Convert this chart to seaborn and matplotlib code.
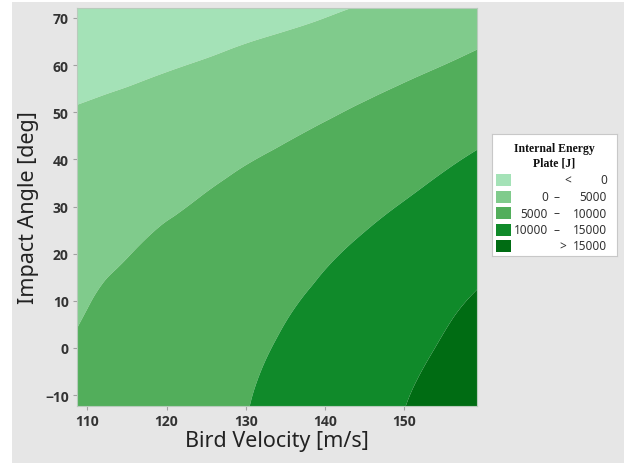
import numpy as np
import matplotlib
matplotlib.use("Agg")
import matplotlib.pyplot as plt
import matplotlib.tri as mtri
from matplotlib.patches import Rectangle
import seaborn as sns

sns.set_theme(style="white")
plt.rcParams['font.family'] = ['Noto Sans', 'DejaVu Sans']

# grid (response surface values, J)
velocity = [105, 110, 115, 120, 125, 130, 135, 140, 145, 150, 155, 160]
angle = [-20, -10, 0, 10, 20, 30, 40, 50, 60, 70, 80]
energy = [
    [4600, 5600, 6700, 7700, 8900, 10100, 11300, 12600, 13900, 15300, 16700, 18200],
    [4700, 5600, 6600, 7600, 8700, 9800, 11000, 12200, 13500, 14800, 16200, 17600],
    [4600, 5400, 6300, 7300, 8300, 9300, 10400, 11600, 12800, 14000, 15300, 16700],
    [4100, 4900, 5800, 6600, 7600, 8600, 9600, 10700, 11800, 13000, 14300, 15500],
    [3500, 4200, 4900, 5800, 6600, 7600, 8500, 9600, 10600, 11700, 12900, 14100],
    [2500, 3200, 3900, 4600, 5400, 6300, 7200, 8200, 9200, 10200, 11300, 12500],
    [1300, 1900, 2600, 3300, 4000, 4800, 5600, 6500, 7400, 8400, 9500, 10600],
    [-100, 400, 1000, 1600, 2300, 3000, 3800, 4600, 5500, 6400, 7400, 8400],
    [-1800, -1400, -900, -300, 300, 1000, 1700, 2400, 3200, 4100, 5000, 6000],
    [-3800, -3400, -2900, -2500, -1900, -1300, -700, 0, 800, 1500, 2400, 3300],
    [-6000, -5700, -5300, -4900, -4400, -3900, -3300, -2700, -2000, -1300, -500, 300],
]
levels = [0, 5000, 10000, 15000]
colors = ['#a4e2b7', '#80cb8c', '#52ae5b', '#108a2a', '#006c13']
txt = '#333333'

fig = plt.figure(figsize=(6.24, 4.64), dpi=100)
fig.patch.set_facecolor('white')
fig.patches.append(Rectangle((12 / 624, 0), 1, 1 - 3 / 464, transform=fig.transFigure,
                             facecolor='#e6e6e6', edgecolor='none', zorder=-1))

ax = fig.add_axes([77 / 624, 1 - 407 / 464, 400 / 624, 398 / 464])
V, A = np.meshgrid(velocity, angle)
z = np.array(energy, float).ravel()
tri = mtri.Triangulation(V.ravel(), A.ravel())
interp = mtri.CubicTriInterpolator(tri, z, kind='min_E')
tri_f, z_f = mtri.UniformTriRefiner(tri).refine_field(z, triinterpolator=interp, subdiv=3)
bounds = [-1e9] + levels + [1e9]
ax.tricontourf(tri_f, z_f, levels=bounds, colors=colors, antialiased=True)
ax.set_xlim(108.7, 159.2)
ax.set_ylim(-12.3, 72.1)
ax.set_xticks([110, 120, 130, 140, 150])
ax.set_yticks([-10, 0, 10, 20, 30, 40, 50, 60, 70])
ax.tick_params(axis='both', which='major', length=3, width=0.8, color='#a0a0a0',
               labelsize=10, labelcolor=txt, pad=3, bottom=True, left=True)
plt.setp(ax.get_xticklabels() + ax.get_yticklabels(),
         fontweight='bold', family=['Open Sans', 'DejaVu Sans'])
for s in ax.spines.values():
    s.set_color('#b8cbbc')
    s.set_linewidth(0.8)
ax.set_xlabel('Bird Velocity [m/s]', fontsize=15.5, color='#222222', labelpad=1)
ax.set_ylabel('Impact Angle [deg]', fontsize=15.5, color='#222222', labelpad=4)

# legend box
lax = fig.add_axes([492 / 624, 1 - 257 / 464, 125 / 624, 122 / 464])
lax.set_xlim(0, 125)
lax.set_ylim(122, 0)
lax.set_xticks([])
lax.set_yticks([])
lax.set_facecolor('white')
for s in lax.spines.values():
    s.set_color('#c8c8c8')
    s.set_linewidth(0.8)
serif = ['Liberation Serif', 'DejaVu Serif']
lax.text(62.5, 14, 'Internal Energy', ha='center', va='center', fontsize=8.5,
         fontweight='bold', family=serif, color='#111111')
lax.text(62.5, 28, 'Plate [J]', ha='center', va='center', fontsize=8.5,
         fontweight='bold', family=serif, color='#111111')
fs = 8.5
for i, c in enumerate(colors):
    yc = 46 + 16.5 * i
    lax.add_patch(Rectangle((4, yc - 6), 15, 12, facecolor=c, edgecolor='none'))
    if i == 0:
        lax.text(76, yc, '<', ha='center', va='center', fontsize=fs, color=txt)
        lax.text(115, yc, str(levels[0]), ha='right', va='center', fontsize=fs, color=txt)
    elif i == len(colors) - 1:
        lax.text(71, yc, '>', ha='center', va='center', fontsize=fs, color=txt)
        lax.text(115, yc, str(levels[-1]), ha='right', va='center', fontsize=fs, color=txt)
    else:
        lax.text(56, yc, str(levels[i - 1]), ha='right', va='center', fontsize=fs, color=txt)
        lax.text(65, yc, '–', ha='center', va='center', fontsize=fs, color=txt)
        lax.text(115, yc, str(levels[i]), ha='right', va='center', fontsize=fs, color=txt)

fig.savefig('out.png', dpi=100)
